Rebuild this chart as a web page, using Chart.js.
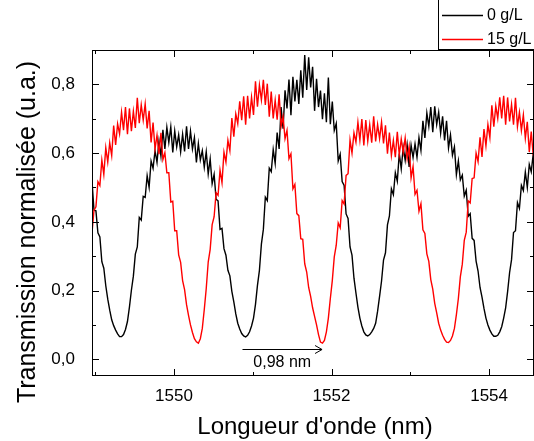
<!DOCTYPE html>
<html lang="fr">
<head>
<meta charset="utf-8">
<title>Transmission normalisée</title>
<script src="https://cdn.jsdelivr.net/npm/chart.js@4.4.1/dist/chart.umd.min.js"></script>
<style>
  html, body { margin: 0; padding: 0; background: #fff; }
  #wrap { width: 534px; height: 441px; }
</style>
</head>
<body>
<div id="wrap"><canvas id="spectrum" width="534" height="441"></canvas></div>
<script>
// wavelength grid of the recorded spectra (nm)
const lambdaStart = 1548.96;
const lambdaStep = 0.025;

// transmission, one value per grid step (noise included)
const trans0 = [
    0.519, 0.434, 0.432, 0.368, 0.356, 0.284, 0.265, 0.214, 0.175, 0.143,
    0.115, 0.098, 0.085, 0.074, 0.066, 0.066, 0.072, 0.087, 0.11, 0.152,
    0.201, 0.242, 0.306, 0.327, 0.413, 0.405, 0.474, 0.471, 0.534, 0.50,
    0.577, 0.556, 0.607, 0.573, 0.635, 0.591, 0.668, 0.612, 0.675, 0.631,
    0.676, 0.602, 0.664, 0.618, 0.653, 0.604, 0.655, 0.605, 0.678, 0.612,
    0.664, 0.612, 0.645, 0.573, 0.628, 0.58, 0.607, 0.559, 0.604, 0.539,
    0.583, 0.511, 0.538, 0.466, 0.461, 0.378, 0.381, 0.322, 0.303, 0.259,
    0.243, 0.198, 0.167, 0.132, 0.105, 0.088, 0.075, 0.068, 0.065, 0.07,
    0.08, 0.097, 0.12, 0.16, 0.215, 0.259, 0.335, 0.378, 0.472, 0.462,
    0.556, 0.546, 0.61, 0.57, 0.66, 0.612, 0.734, 0.671, 0.783, 0.73,
    0.814, 0.71, 0.822, 0.75, 0.813, 0.743, 0.841, 0.761, 0.885, 0.784,
    0.879, 0.791, 0.851, 0.723, 0.816, 0.734, 0.782, 0.699, 0.774, 0.69,
    0.82, 0.684, 0.75, 0.666, 0.686, 0.577, 0.597, 0.517, 0.506, 0.423,
    0.41, 0.327, 0.303, 0.236, 0.193, 0.152, 0.12, 0.097, 0.08, 0.071,
    0.068, 0.072, 0.08, 0.09, 0.105, 0.14, 0.183, 0.228, 0.289, 0.31,
    0.391, 0.417, 0.496, 0.479, 0.543, 0.518, 0.599, 0.554, 0.617, 0.579,
    0.624, 0.56, 0.623, 0.587, 0.627, 0.588, 0.645, 0.608, 0.694, 0.644,
    0.717, 0.678, 0.734, 0.661, 0.736, 0.683, 0.719, 0.658, 0.707, 0.637,
    0.694, 0.615, 0.653, 0.594, 0.618, 0.537, 0.577, 0.522, 0.536, 0.475,
    0.492, 0.416, 0.424, 0.352, 0.346, 0.286, 0.257, 0.209, 0.181, 0.148,
    0.12, 0.10, 0.085, 0.074, 0.067, 0.067, 0.07, 0.08, 0.095, 0.12,
    0.15, 0.197, 0.252, 0.29, 0.369, 0.374, 0.456, 0.439, 0.506, 0.491,
    0.545, 0.50, 0.567, 0.546, 0.597
];
const trans15 = [
    0.368, 0.434, 0.444, 0.517, 0.506, 0.58, 0.538, 0.616, 0.574, 0.63,
    0.593, 0.68, 0.624, 0.685, 0.656, 0.719, 0.667, 0.734, 0.655, 0.73,
    0.664, 0.722, 0.673, 0.761, 0.687, 0.74, 0.696, 0.743, 0.672, 0.723,
    0.631, 0.689, 0.612, 0.652, 0.597, 0.659, 0.581, 0.601, 0.543, 0.543,
    0.458, 0.46, 0.374, 0.374, 0.304, 0.282, 0.229, 0.203, 0.159, 0.128,
    0.10, 0.078, 0.06, 0.051, 0.047, 0.06, 0.09, 0.145, 0.206, 0.283,
    0.32, 0.392, 0.415, 0.485, 0.477, 0.55, 0.514, 0.603, 0.574, 0.637,
    0.607, 0.702, 0.648, 0.714, 0.686, 0.751, 0.696, 0.765, 0.683, 0.767,
    0.701, 0.763, 0.711, 0.809, 0.735, 0.798, 0.755, 0.813, 0.74, 0.802,
    0.706, 0.779, 0.701, 0.754, 0.697, 0.771, 0.677, 0.706, 0.642, 0.666,
    0.584, 0.598, 0.496, 0.509, 0.424, 0.418, 0.351, 0.349, 0.278, 0.254,
    0.209, 0.183, 0.15, 0.125, 0.10, 0.072, 0.05, 0.047, 0.055, 0.08,
    0.12, 0.177, 0.229, 0.298, 0.332, 0.397, 0.383, 0.462, 0.452, 0.535,
    0.54, 0.638, 0.60, 0.659, 0.632, 0.69, 0.638, 0.699, 0.622, 0.696,
    0.635, 0.683, 0.63, 0.707, 0.634, 0.683, 0.642, 0.69, 0.628, 0.681,
    0.598, 0.66, 0.593, 0.637, 0.588, 0.662, 0.595, 0.641, 0.602, 0.644,
    0.584, 0.619, 0.528, 0.561, 0.48, 0.492, 0.431, 0.453, 0.377, 0.366,
    0.307, 0.285, 0.232, 0.204, 0.163, 0.135, 0.105, 0.085, 0.07, 0.058,
    0.05, 0.049, 0.055, 0.068, 0.09, 0.13, 0.177, 0.24, 0.277, 0.346,
    0.37, 0.461, 0.455, 0.526, 0.528, 0.60, 0.575, 0.646, 0.589, 0.67,
    0.621, 0.683, 0.645, 0.739, 0.677, 0.737, 0.701, 0.762, 0.701, 0.767,
    0.683, 0.762, 0.692, 0.742, 0.683, 0.761, 0.677, 0.719, 0.666, 0.711,
    0.643, 0.691, 0.603, 0.663, 0.593
];

const seriesLabels = ['0 g/L', '15 g/L'];
const seriesColors = ['#000000', '#ff0000'];

const xTicks = [1550, 1552, 1554];
const xMinorTicks = [1549, 1551, 1553];
const yTicks = [0, 0.2, 0.4, 0.6, 0.8];
const yMinorTicks = [0.1, 0.3, 0.5, 0.7];

// spacing between neighbouring minima
const spacingFrom = 1550.87;
const spacingTo = 1551.88;
const spacingLevel = 0.03;
const spacingText = '0,98 nm';

const FONT = '"Liberation Sans", Arial, sans-serif';

function toPoints(values) {
    return values.map((v, i) => ({ x: +(lambdaStart + i * lambdaStep).toFixed(3), y: v }));
}

// frame, inward ticks, legend box, annotation and axis titles
const originStyle = {
    id: 'originStyle',
    afterDatasetsDraw(chart) {
        const { ctx, chartArea: a, scales: { x, y } } = chart;
        ctx.save();
        ctx.strokeStyle = '#000';
        ctx.lineWidth = 1;
        ctx.strokeRect(a.left + 0.5, a.top + 0.5, a.right - a.left - 1, a.bottom - a.top - 1);

        const tick = (x1, y1, x2, y2) => {
            ctx.beginPath();
            ctx.moveTo(x1, y1);
            ctx.lineTo(x2, y2);
            ctx.stroke();
        };
        const xt = (v, len) => {
            const px = Math.round(x.getPixelForValue(v)) + 0.5;
            tick(px, a.bottom, px, a.bottom - len);
            tick(px, a.top, px, a.top + len);
        };
        const yt = (v, len) => {
            const py = Math.round(y.getPixelForValue(v)) + 0.5;
            tick(a.left, py, a.left + len, py);
            tick(a.right, py, a.right - len, py);
        };
        xTicks.forEach(v => xt(v, 7));
        xMinorTicks.forEach(v => xt(v, 4));
        yTicks.forEach(v => yt(v, 7));
        yMinorTicks.forEach(v => yt(v, 4));

        // spacing arrow
        const ax1 = x.getPixelForValue(spacingFrom);
        const ax2 = x.getPixelForValue(spacingTo);
        const ay = Math.round(y.getPixelForValue(spacingLevel)) + 0.5;
        tick(ax1, ay, ax2, ay);
        ctx.beginPath();
        ctx.moveTo(ax2 - 7, ay - 4);
        ctx.lineTo(ax2, ay);
        ctx.lineTo(ax2 - 7, ay + 4);
        ctx.stroke();
        ctx.fillStyle = '#000';
        ctx.font = '16px ' + FONT;
        ctx.textAlign = 'center';
        ctx.textBaseline = 'middle';
        ctx.fillText(spacingText, (ax1 + ax2) / 2, ay + 13);

        // legend
        ctx.fillStyle = '#fff';
        ctx.fillRect(438, -2, 100, 51);
        ctx.strokeRect(438.5, -2, 100, 51.5);
        ctx.font = '16px ' + FONT;
        ctx.textAlign = 'left';
        seriesLabels.forEach((label, i) => {
            const ly = 15.5 + i * 24;
            ctx.strokeStyle = seriesColors[i];
            ctx.lineWidth = 1.3;
            tick(442, ly, 483, ly);
            ctx.fillStyle = '#000';
            ctx.fillText(label, 487, ly);
        });

        // axis titles
        ctx.fillStyle = '#000';
        ctx.font = '24px ' + FONT;
        ctx.textAlign = 'center';
        ctx.textBaseline = 'alphabetic';
        ctx.fillText("Longueur d'onde (nm)", 315, 434);
        ctx.translate(35, 232);
        ctx.rotate(-Math.PI / 2);
        ctx.font = '25px ' + FONT;
        ctx.fillText('Transmission normalisée (u.a.)', 0, 0);
        ctx.restore();
    }
};

new Chart(document.getElementById('spectrum'), {
    type: 'line',
    data: {
        datasets: [
            {
                label: seriesLabels[0],
                data: toPoints(trans0),
                borderColor: seriesColors[0],
                borderWidth: 1.4,
                pointRadius: 0,
                tension: 0,
                order: 2
            },
            {
                label: seriesLabels[1],
                data: toPoints(trans15),
                borderColor: seriesColors[1],
                borderWidth: 1.4,
                pointRadius: 0,
                tension: 0,
                order: 1
            }
        ]
    },
    options: {
        responsive: false,
        animation: false,
        layout: { padding: { top: 50, right: 0, left: 0, bottom: 0 } },
        plugins: {
            legend: { display: false },
            tooltip: { enabled: false }
        },
        scales: {
            x: {
                type: 'linear',
                min: 1548.96,
                max: 1554.57,
                grid: { display: false },
                border: { display: false },
                afterBuildTicks: s => { s.ticks = xTicks.map(v => ({ value: v })); },
                afterFit: s => { s.height = 65; },
                ticks: {
                    color: '#000',
                    font: { family: FONT, size: 17 },
                    padding: 2,
                    maxRotation: 0,
                    autoSkip: false,
                    callback: v => String(v)
                }
            },
            y: {
                min: -0.0485,
                max: 0.9,
                grid: { display: false },
                border: { display: false },
                afterBuildTicks: s => { s.ticks = yTicks.map(v => ({ value: v })); },
                afterFit: s => { s.width = 92; },
                ticks: {
                    color: '#000',
                    font: { family: FONT, size: 17 },
                    padding: 9,
                    callback: v => v.toFixed(1).replace('.', ',')
                }
            }
        }
    },
    plugins: [originStyle]
});
</script>
</body>
</html>
